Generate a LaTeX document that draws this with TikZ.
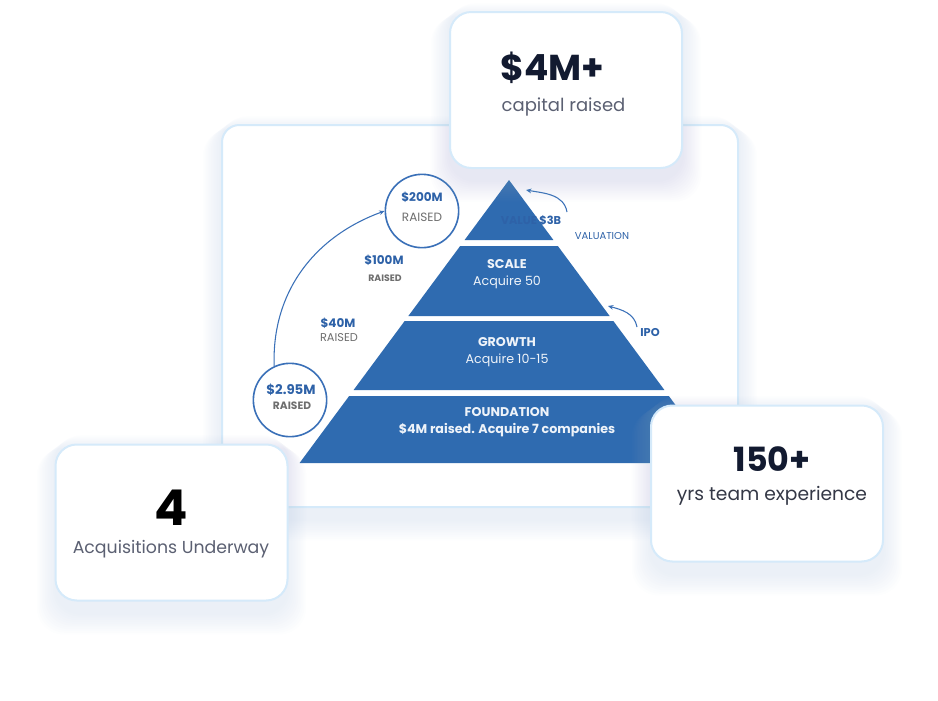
\documentclass[tikz,border=0pt]{standalone}
\usepackage{fontspec}
\setmainfont{Poppins}
\usetikzlibrary{arrows.meta}
\definecolor{pyrblue}{HTML}{2F6BB0}
\definecolor{ringblue}{HTML}{3A70B8}
\definecolor{textblue}{HTML}{2E62A8}
\definecolor{navy}{HTML}{121A30}
\definecolor{slate}{HTML}{5B6072}
\definecolor{darkslate}{HTML}{343846}
\definecolor{edgeblue}{HTML}{D5EAFA}
\definecolor{raisedgrey}{HTML}{6E6E6E}
\definecolor{shadowblue}{HTML}{9FB6D8}
\newcommand{\fsz}[1]{\fontsize{#1}{1.25\dimexpr#1pt\relax}\selectfont}
% soft glow below a card: left, top, right, bottom (px)
\newcommand{\softshadow}[4]{%
  \foreach \g in {1,...,12}
    \fill[shadowblue, opacity=0.018, rounded corners=20pt]
      ({#1-1.6*\g},{-(#2)+10-1.2*\g}) rectangle ({#3+1.6*\g},{-(#4)-12-1.8*\g});}

\begin{document}
\begin{tikzpicture}[x=0.75pt,y=0.75pt,
  card/.style={rectangle, rounded corners=16pt, draw=edgeblue, line width=1.5pt, fill=white, minimum width=174pt, minimum height=117pt},
  ring/.style={circle, draw=ringblue, line width=1.2pt, fill=white, minimum size=55pt, inner sep=0pt, align=center},
  tier/.style={text=white!92!pyrblue, align=center, font=\fontsize{9.5}{13}\selectfont},
  amount/.style={text=textblue, font=\fsz{9}\bfseries},
  raised/.style={text=raisedgrey, font=\fsz{8.5}},
  flow/.style={draw=ringblue, line width=0.8pt, -{Stealth[length=4pt,width=3.5pt]}},
  bignum/.style={text=navy, font=\fsz{27}\bfseries},
  caption/.style={text=slate, font=\fsz{13}}
]
\useasboundingbox (0,0) rectangle (938,-700);

% Main panel behind the pyramid
\softshadow{222}{125}{738}{507}
\node[card, rounded corners=13pt, minimum width=387pt, minimum height=286.5pt] (panel) at (480,-316) {};

% Pyramid tiers
\foreach \ya/\yb in {180/240,246/316,321/390,396/463}
  \fill[pyrblue] ({509-0.74*(\ya-180)},-\ya) -- ({509+0.74*(\ya-180)},-\ya)
    -- ({509+0.74*(\yb-180)},-\yb) -- ({509-0.74*(\yb-180)},-\yb) -- cycle;

\node[text=textblue, font=\fsz{8.5}\bfseries] (value) at (531,-220) {VALUE \$3B};
\node[tier] (scale) at (507,-274) {{\bfseries SCALE}\\Acquire 50};
\node[tier] (growth) at (507,-352) {{\bfseries GROWTH}\\Acquire 10-15};
\node[tier, font=\fontsize{9.5}{13}\selectfont\bfseries] (found) at (507,-422) {FOUNDATION\\\$4M raised. Acquire 7 companies};

% Side notes
\node[text=textblue, font=\fsz{7.5}] (valuation) at (602,-236) {VALUATION};
\node[text=textblue, font=\fsz{8.5}\bfseries] (ipo) at (650,-332) {IPO};
\coordinate (valstart) at (567,-212);
\coordinate (valend) at (526,-190);
\coordinate (ipostart) at (637,-327);
\coordinate (ipoend) at (608,-306);
\draw[flow] (valstart) to[out=100,in=-10] (valend);
\draw[flow] (ipostart) to[out=100,in=-15] (ipoend);

% Funding milestones
\node[ring] (c200) at (422,-211) {};
\node[amount] (a200) at (422,-197) {\$200M};
\node[raised, font=\fsz{9}] (r200) at (422,-217) {RAISED};
\node[amount] (a100) at (384,-260) {\$100M};
\node[raised, font=\fsz{7}\bfseries] (r100) at (385,-278) {RAISED};
\node[amount] (a40) at (338,-323) {\$40M};
\node[raised] (r40) at (339,-338) {RAISED};
\node[ring] (c295) at (290,-400) {};
\node[amount, font=\fsz{10}\bfseries] (a295) at (291,-390) {\$2.95M};
\node[raised, font=\fsz{8}\bfseries] (r295) at (292,-406) {RAISED};
\draw[flow] (c295.115) to[out=92,in=200] (c200.west);

% Stat cards
\softshadow{450}{12}{682}{168}
\node[card] (capital) at (566,-90) {};
\node[bignum, anchor=west] (capnum) at (496,-68) {\$4M+};
\node[caption, font=\fsz{13.5}, anchor=west] (captext) at (497,-107) {capital raised};

\softshadow{651}{405}{883}{562}
\node[card] (team) at (767,-483.5) {};
\node[bignum, font=\fsz{25}\bfseries] (teamnum) at (772,-459) {150+};
\node[caption, text=darkslate, font=\fsz{14}] (teamtext) at (772,-496) {yrs team experience};

\softshadow{56}{444}{287}{601}
\node[card] (deals) at (171.5,-522.5) {};
\node[text=black, font=\fsz{37}\bfseries] (dealnum) at (171,-508) {4};
\node[caption] (dealtext) at (171,-549) {Acquisitions Underway};

\end{tikzpicture}
\end{document}
